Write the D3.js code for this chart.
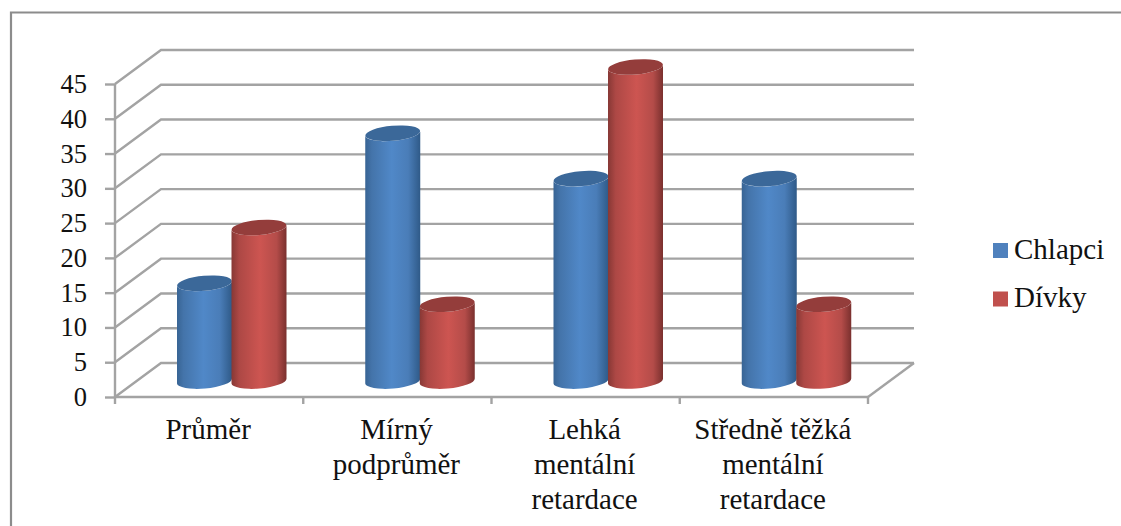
<!DOCTYPE html>
<html>
<head>
<meta charset="utf-8">
<script src="https://cdn.jsdelivr.net/npm/d3@7/dist/d3.min.js"></script>
<style>
html,body{margin:0;padding:0;background:#fff;overflow:hidden}
svg{display:block}
text{font-family:"Liberation Serif","Times New Roman",serif;fill:#111}
</style>
</head>
<body>
<svg id="chart" width="1121" height="526"></svg>
<script>
const categories = [
  ["Průměr"],
  ["Mírný", "podprůměr"],
  ["Lehká", "mentální", "retardace"],
  ["Středně těžká", "mentální", "retardace"]
];
const seriesNames = ["Chlapci", "Dívky"];
const chlapci = [14, 35.5, 29, 29];
const divky = [22, 11, 45, 11];
const seriesValues = [chlapci, divky];
const yTicks = [0, 5, 10, 15, 20, 25, 30, 35, 40, 45];
const seriesColors = ["#4f81bd", "#c0504d"];

const svg = d3.select("#chart");
const gridColor = "#a3a3a3";
const depthX = 46, depthY = -34;          // offset of the back wall from the front plane

const y = d3.scaleLinear().domain([0, 45]).range([397, 84]);
// Bars stand partway along the floor, so their heights use a plane of their own
const yBar = d3.scaleLinear().domain([0, 45]).range([381, 67]);
const x = d3.scaleBand().domain(d3.range(categories.length)).range([115, 868]);

// Outer chart frame, open at the right and bottom edges of the page
svg.append("path")
  .attr("d", "M11,530V12.5H1125")
  .attr("fill", "none").attr("stroke", "#8c8c8c").attr("stroke-width", 2.2);

// Walls and floor of the 3D box
const wall = svg.append("g").attr("fill", "none").attr("stroke", gridColor).attr("stroke-width", 2.4);
yTicks.forEach(t => {
  const yf = y(t), xb = x.range()[0] + depthX, yb = yf + depthY;
  wall.append("path").attr("d", `M${x.range()[0]},${yf}L${xb},${yb}H${x.range()[1] + depthX}`);
});
wall.append("path").attr("d",
  `M${x.range()[1]},${y(0)}L${x.range()[1] + depthX},${y(0) + depthY}`);

// Value axis
const yAxis = d3.axisLeft(y).tickValues(yTicks).tickSize(10).tickPadding(18);
const gy = svg.append("g").attr("transform", `translate(${x.range()[0]},0)`).call(yAxis);
gy.selectAll("path,line").attr("stroke", gridColor).attr("stroke-width", 2.4);
gy.select(".domain").attr("d", `M0,${y(45)}V${y(0)}`);
gy.selectAll("text").attr("font-size", 26.5).attr("font-family", "Liberation Serif").attr("fill", "#111");

// Category axis: the tick marks sit on the band boundaries
const bounds = x.domain().map(i => x(i)).concat(x.range()[1]);
const gx = svg.append("g").attr("stroke", gridColor).attr("stroke-width", 2.4);
gx.append("line").attr("x1", x.range()[0]).attr("x2", x.range()[1]).attr("y1", y(0)).attr("y2", y(0));
gx.selectAll("line.tick").data(bounds).join("line").attr("class", "tick")
  .attr("x1", d => d).attr("x2", d => d).attr("y1", y(0)).attr("y2", y(0) + 7);

svg.append("g").selectAll("text").data(categories).join("text")
  .attr("text-anchor", "middle").attr("font-size", 29)
  .each(function (lines, i) {
    d3.select(this).selectAll("tspan").data(lines).join("tspan")
      .attr("x", x(i) + x.bandwidth() / 2 - 1)
      .attr("y", (d, k) => 439 + k * 35)
      .text(d => d);
  });

// Cylinder shading
const defs = svg.append("defs");
const shades = [
  [["#386494", 0], ["#4474aa", .12], ["#5088c8", .48], ["#4a7db8", .78], ["#2f5a88", 1]],
  [["#873835", 0], ["#ad4845", .14], ["#cd5551", .52], ["#b44c49", .82], ["#7a302e", 1]]
];
shades.forEach((stops, i) => {
  const g = defs.append("linearGradient").attr("id", "cyl" + i);
  stops.forEach(([c, o]) => g.append("stop").attr("offset", o).attr("stop-color", c));
});
const topColors = ["#3b6899", "#943d3b"];

const barWidth = 55, barInset = 62, rx = 27.5, ry = 7.5, tilt = -5;
const rise = Math.tan(-tilt * Math.PI / 180) * rx;

// Bars are painted group by group, so the second series overlaps the first
const bars = svg.append("g");
categories.forEach((c, i) => {
  seriesValues.forEach((vals, s) => {
    const x0 = x(i) + barInset + s * (barWidth - 0.5), x1 = x0 + barWidth;
    const yTop = yBar(vals[i]), yBase = yBar(0);
    const arc = `A${rx},${ry} ${tilt} 0`;
    const g = bars.append("g");
    g.append("path")
      .attr("d", `M${x0},${yTop + rise}L${x0},${yBase + rise}${arc} 0 ${x1},${yBase - rise}L${x1},${yTop - rise}${arc} 1 ${x0},${yTop + rise}Z`)
      .attr("fill", `url(#cyl${s})`);
    g.append("ellipse")
      .attr("cx", (x0 + x1) / 2).attr("cy", yTop)
      .attr("rx", rx).attr("ry", ry)
      .attr("transform", `rotate(${tilt} ${(x0 + x1) / 2} ${yTop})`)
      .attr("fill", topColors[s]);
  });
});

// Legend
const legendY = d3.scalePoint().domain(seriesNames).range([250, 298.5]);
const legend = svg.append("g").selectAll("g").data(seriesNames).join("g")
  .attr("transform", d => `translate(993,${legendY(d)})`);
legend.append("rect").attr("x", 0).attr("y", -7).attr("width", 15).attr("height", 15)
  .attr("fill", (d, i) => seriesColors[i]);
legend.append("text").attr("x", 21).attr("y", 8.5).attr("font-size", 29).text(d => d);
</script>
</body>
</html>
